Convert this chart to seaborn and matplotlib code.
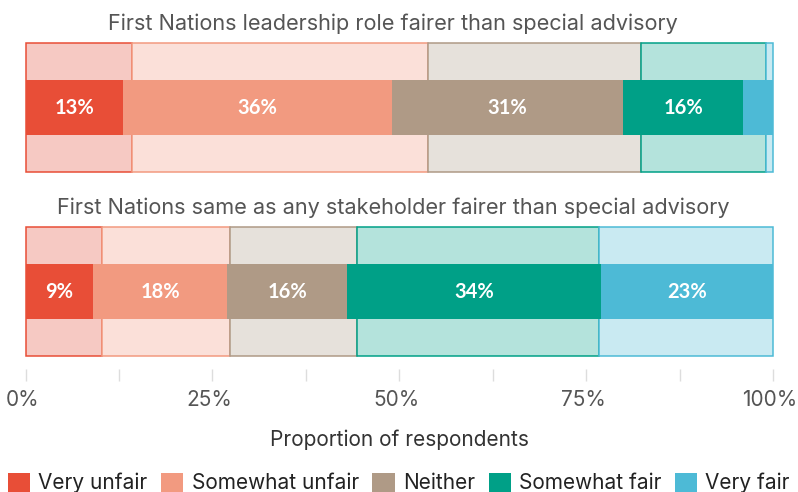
import matplotlib
matplotlib.use("Agg")
import matplotlib.pyplot as plt
import matplotlib.transforms as mtransforms
from matplotlib.patches import Patch
import pandas as pd
import seaborn as sns

# Response categories (left to right)
categories = ["Very unfair", "Somewhat unfair", "Neither", "Somewhat fair", "Very fair"]

# Survey statements, one panel each
questions = [
    "First Nations leadership role fairer than special advisory",
    "First Nations same as any stakeholder fairer than special advisory",
]

# Main (highlighted) shares, per statement, in % of respondents
main_leadership = [13, 36, 31, 16, 4]
main_stakeholder = [9, 18, 16, 34, 23]

# Comparison (background) shares, per statement, in % of respondents
bg_leadership = [14.3, 39.5, 28.5, 16.7, 1.0]
bg_stakeholder = [10.3, 17.1, 16.9, 32.4, 23.3]

strong_colors = ["#E84E37", "#F29A80", "#AF9A86", "#00A087", "#4DBAD6"]
pale_colors = ["#F6C9C3", "#FBE0D9", "#E6E1DB", "#B4E3DC", "#C9EAF2"]

x_ticks = [0, 12.5, 25, 37.5, 50, 62.5, 75, 87.5, 100]
x_ticklabels = ["0%", "", "25%", "", "50%", "", "75%", "", "100%"]


def build_frame(question, values, layer):
    starts = [sum(values[:i]) for i in range(len(values))]
    return pd.DataFrame({
        "question": question,
        "category": categories,
        "value": values,
        "start": starts,
        "layer": layer,
    })


frames = pd.concat([
    build_frame(questions[0], main_leadership, "main"),
    build_frame(questions[0], bg_leadership, "background"),
    build_frame(questions[1], main_stakeholder, "main"),
    build_frame(questions[1], bg_stakeholder, "background"),
], ignore_index=True)

sns.set_theme(style="white")
plt.rcParams["font.family"] = ["Inter", "DejaVu Sans"]

W, H = 798, 492
fig = plt.figure(figsize=(W / 100, H / 100), dpi=100)

left_px, right_px = 25.5, 773
panel_tops = [43, 227]
panel_h = 129

axes = []
for q_idx, question in enumerate(questions):
    top = panel_tops[q_idx]
    ax = fig.add_axes([left_px / W, 1 - (top + panel_h) / H,
                       (right_px - left_px) / W, panel_h / H])
    axes.append(ax)
    sub = frames[frames["question"] == question]

    bg = sub[sub["layer"] == "background"]
    for i, row in enumerate(bg.itertuples()):
        sns.barplot(data=pd.DataFrame([row._asdict()]), x="value", y="question",
                    orient="h", left=row.start, width=1.0, color=pale_colors[i],
                    edgecolor=strong_colors[i], linewidth=1.1, saturation=1,
                    errorbar=None, clip_on=False, ax=ax)

    fg = sub[sub["layer"] == "main"]
    for i, row in enumerate(fg.itertuples()):
        sns.barplot(data=pd.DataFrame([row._asdict()]), x="value", y="question",
                    orient="h", left=row.start, width=0.434, color=strong_colors[i],
                    linewidth=0, saturation=1, errorbar=None, ax=ax)
        if row.value >= 5:
            ax.text(row.start + row.value / 2, 0, f"{row.value:.0f}%",
                    ha="center", va="center", color="white",
                    fontsize=14.5, fontweight="bold", family=["Lato", "DejaVu Sans"])

    ax.set_xlim(0, 100)
    ax.set_ylim(0.5, -0.5)
    ax.set_ylabel("")
    ax.set_yticks([])
    for s in ax.spines.values():
        s.set_visible(False)
    title_shift = mtransforms.ScaledTranslation(0, 13 / 100, fig.dpi_scale_trans)
    ax.text((393 - left_px) / (right_px - left_px), 1.0, question,
            transform=ax.transAxes + title_shift, ha="center", va="baseline",
            fontsize=15.6, color="#555555")
    ax.title.set_visible(False)

# Only the lower panel carries the percentage axis
for ax in axes[:-1]:
    ax.set_xticks([])
    ax.set_xlabel("")

ax = axes[-1]
ax.spines["bottom"].set_position(("outward", 9))
ax.set_xticks(x_ticks)
ax.set_xticklabels(x_ticklabels)
ax.tick_params(axis="x", bottom=True, direction="out", length=8.6, width=1,
               color="#DDDDDD", labelsize=15, labelcolor="#555555", pad=7)
label_shift = mtransforms.ScaledTranslation(-3 / 100, 0, fig.dpi_scale_trans)
for lab in ax.get_xticklabels():
    lab.set_transform(lab.get_transform() + label_shift)
ax.set_xlabel("Proportion of respondents", fontsize=15, color="#333333",
              labelpad=14)

handles = [Patch(facecolor=c, edgecolor="none", label=lab)
           for c, lab in zip(strong_colors, categories)]
# Legend row hugs the bottom edge; anchor given in figure pixels from bottom-left
fig.legend(handles=handles, loc="center",
           bbox_to_anchor=(W / 2, H - 483),
           bbox_transform=mtransforms.IdentityTransform(),
           ncol=5, frameon=False, fontsize=15, handlelength=1.06,
           handleheight=1.06, handletextpad=0.4, columnspacing=0.65,
           labelcolor="#222222", borderaxespad=0, borderpad=0)

fig.savefig("out.png", dpi=100, facecolor="white")
